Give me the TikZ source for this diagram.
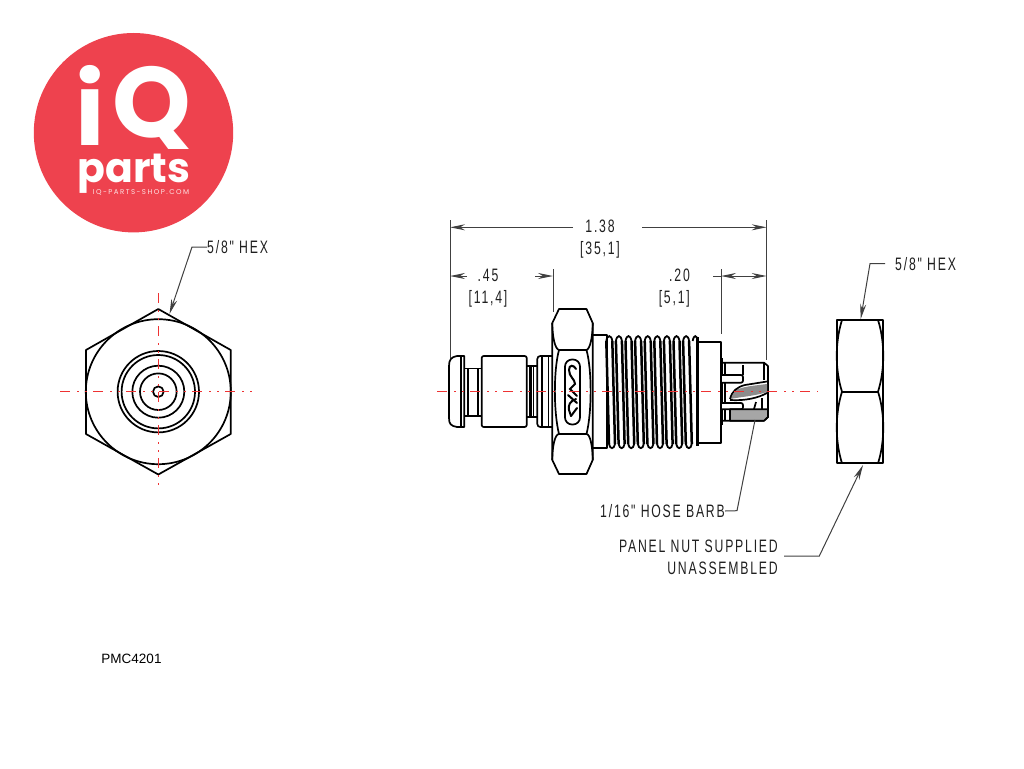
\documentclass[tikz,border=0pt]{standalone}
\usepackage{fontspec}
\usetikzlibrary{arrows.meta,patterns}
\newfontfamily\cadfont{Liberation Sans}[FakeStretch=.68,LetterSpace=10]
\newfontfamily\logofont{Poppins}
\setmainfont{Liberation Sans}
\definecolor{logored}{RGB}{238,66,78}
\definecolor{cline}{RGB}{238,50,50}
\definecolor{cadtext}{gray}{.12}
\begin{document}
\begin{tikzpicture}[x=1pt,y=-1pt,
	> = {Stealth[length=15pt,width=6pt]}, % arrow head style
	part/.style={line width=1.7pt,line join=round},
	centre/.style={cline,line width=1pt,dash pattern=on 10pt off 7pt on 2pt off 6pt on 2pt off 6pt},
	dim/.style={black!75,line width=1pt},
	logotext/.style={text=white,inner sep=0pt,anchor=base},
	cadlabel/.style={font=\cadfont\fontsize{18}{22}\selectfont,text=cadtext,inner sep=0pt}]
	\useasboundingbox (0,0) rectangle (1024,768);

	% logo
	\fill[logored] (133.5,132.7) circle (99.7);
	\node (logoi) at (90,145) [logotext,font=\logofont\bfseries\fontsize{100}{100}\selectfont] {i};
	\node (logoq) at (152,137) [logotext,font=\logofont\bfseries\fontsize{100}{100}\selectfont] {Q};
	\node (logoparts) at (134,182) [logotext,font=\logofont\bfseries\fontsize{41}{41}\selectfont] {parts};
	\node (logoshop) at (141,194.5) [logotext,font=\logofont\fontsize{7}{7}\selectfont,text=white!85!logored] {\addfontfeature{LetterSpace=21}IQ-PARTS-SHOP.COM};
	\node (partno) at (131.5,659) [font=\fontsize{13.5}{13.5}\selectfont,inner sep=0pt] {PMC4201};

	% end view
	\draw[part] (158.3,309)--(230.7,350)--(230.7,434)--(158.3,474.5)--(86,434)--(86,350)--cycle;
	\foreach \r in {72.5,40.7,36.7,26,18.3,5.3}
		\draw[part] (158.3,391.7) circle (\r);
	\draw[centre] (60,391.7)--(256,391.7);
	\draw[centre] (158.3,293)--(158.3,490);

	% knob and body
	\draw[part] (464.3,356) -- (457,356) .. controls (451,357) and (449,360) .. (449,366)
		-- (449,418) .. controls (449,424) and (451,426) .. (457,427) -- (464.3,427) -- cycle;
	\draw[part] (460.7,356)--(460.7,427);
	\draw[part] (464.3,368.5)--(481.7,368.5) (464.3,416)--(481.7,416);
	\draw[part] (467.7,368.5)--(467.7,416) (477.7,368.5)--(477.7,416);
	\draw[part,rounded corners=2pt] (481.7,427)--(481.7,356)--(526.7,356)--(526.7,427)--cycle;
	\draw[part] (526.7,366)--(537.3,366) (526.7,417)--(537.3,417);
	\draw[line width=2.6pt] (530.5,366)--(530.5,417);
	\draw[part] (533.5,366)--(533.5,417);
	\draw[part,rounded corners=3pt] (552.3,356)--(537.3,356)--(537.3,427)--(552.3,427);
	\draw[part] (542,356)--(542,427) (548.5,356)--(548.5,427);

	% hex
	\draw[part] (552.3,323) -- (559,309) -- (586.5,309) -- (592.7,323) -- (592.7,460) -- (586.5,474) -- (559,474) -- (552.3,460) -- cycle;
	\draw[part] (552.3,323) .. controls (552.3,337) and (555,349) .. (559,350) -- (586.5,350) .. controls (590,349) and (592.7,337) .. (592.7,323);
	\draw[part] (552.3,460) .. controls (552.3,446) and (555,434) .. (559,434) -- (586.5,434) .. controls (590,434) and (592.7,446) .. (592.7,460);
	\draw[part] (559,350) .. controls (553.5,370) and (553.5,412) .. (559,434);
	\draw[part] (586.5,350) .. controls (592,370) and (592,412) .. (586.5,434);
	\draw[part,rounded corners=7pt] (565,359.5) rectangle (580,424.5);
	\draw[line width=2pt,line cap=round] (576,369) .. controls (574,365) and (569,364) .. (569,370) .. controls (569,377) and (575,379) .. (575,384) -- (570,389) -- (577,396);
	\draw[line width=2pt,line cap=round] (576,399) .. controls (570,401) and (568,405) .. (569,410) -- (571,416);
	\draw[line width=2pt,line cap=round] (568,395) -- (577,403) (577,408) -- (571,416);

	% collar and thread
	\draw[part] (592.7,335)--(606.7,335)--(606.7,448)--(592.7,448);
	\foreach \k in {0,...,8} {
		\draw[line width=2.5pt] ({606.3+9.6*\k},341)--({609+9.6*\k},444);
		\draw[line width=2.5pt] ({612.3+9.6*\k},341)--({615+9.6*\k},444);
		\draw[line width=1.8pt] ({606.3+9.6*\k},341) .. controls ({607.3+9.6*\k},334.5) and ({611.3+9.6*\k},334.5) .. ({612.3+9.6*\k},341);
		\draw[line width=1.8pt] ({609+9.6*\k},444) .. controls ({610+9.6*\k},449.5) and ({614+9.6*\k},449.5) .. ({615+9.6*\k},444);
	}
	\draw[part,fill=white] (698,341.7) rectangle (721,442.7);
	\draw[line width=1.8pt] (692.7,341) .. controls (693.7,334.5) and (697,334.5) .. (697.5,341);
	\draw[line width=2.8pt] (697.5,337)--(697.5,446);

	% barb end
	\draw[part] (721.5,362.7)--(764,362.7)--(768,366)--(768,417)--(764,420.7)--(721.5,420.7)--cycle;
	\draw[line width=2.4pt] (722,358)--(722,425);
	\draw[part] (725,362.7)--(725,375) (725,382.7)--(725,402.7) (725,409.3)--(725,420.7) (764,362.7)--(764,380);
	\draw[part,rounded corners=2pt,fill=white] (722,375)--(743,375)--(743,382.7)--(722,382.7);
	\draw[part,rounded corners=2pt,fill=white] (722,403)--(743,403)--(743,409.3)--(722,409.3);
	\path[pattern=north east lines,pattern color=black!70,fill=black!35] (730,409.3)--(768,409.3)--(768,417)--(764,420.7)--(730,420.7)--cycle;
	\draw[part] (730,409.3)--(768,409.3)--(768,417)--(764,420.7)--(730,420.7)--cycle;
	\fill[black!45] (730,399) .. controls (740,397) and (755,396) .. (767,392) -- (767,384) .. controls (750,386) and (742,387) .. (736,390) -- cycle;
	\draw[part] (730,399) .. controls (732,391) and (737,387) .. (745,385) -- (767,381.5);
	\draw[part] (730,400) .. controls (745,401) and (758,398) .. (767,393);
	\draw[part] (756,402)--(754,409) (762,398)--(762,409) (743,375)--(743,365);

	% nut
	\draw[part] (836.7,320) rectangle (883.3,463.3);
	\draw[part] (842,391.7)--(878,391.7);
	\foreach \yt/\yb in {320/391.7,391.7/463.3} {
		\draw[part] (842,\yt) .. controls (835,{\yt+22}) and (835,{\yb-22}) .. (842,\yb);
		\draw[part] (878,\yt) .. controls (885,{\yt+22}) and (885,{\yb-22}) .. (878,\yb);
	}
	\draw[centre] (437,391.7)--(818,391.7);

	% dimensions
	\coordinate (extA) at (450,220);
	\coordinate (extAb) at (450,358);
	\coordinate (extB) at (766.7,220);
	\coordinate (extBb) at (766.7,360);
	\coordinate (extC) at (553,269);
	\coordinate (extCb) at (553,312);
	\coordinate (extD) at (721,269);
	\coordinate (extDb) at (721,334);
	\draw[dim] (extA)--(extAb);
	\draw[dim] (extB)--(extBb);
	\draw[dim] (extC)--(extCb);
	\draw[dim] (extD)--(extDb);

	\node (dimall) at (600,239) [cadlabel,align=center] {1.38\\{[35,1]}};
	\node (dimknob) at (488,288) [cadlabel,align=center] {.45\\{[11,4]}};
	\node (dimbarb) at (690,288) [cadlabel,align=right,anchor=east] {.20\\{[5,1]}};
	\coordinate (allL) at (573,227.3);
	\coordinate (allR) at (642,227.3);
	\coordinate (knobL) at (467,276);
	\coordinate (knobR) at (535,276);
	\coordinate (barbT) at (713,276);
	\draw[dim,->] (allL)--(450,227.3);
	\draw[dim,->] (allR)--(766.7,227.3);
	\draw[dim,->] (knobL)--(450,276);
	\draw[dim,->] (knobR)--(553,276);
	\draw[dim] (barbT)--(721,276);
	\draw[dim,<->] (721,276)--(766.7,276);

	% leaders
	\node (hexend) at (207,247) [cadlabel,anchor=west] {5/8" HEX};
	\node (hexnut) at (895,264) [cadlabel,anchor=west] {5/8" HEX};
	\node (hosebarb) at (725,511) [cadlabel,anchor=east] {1/16" HOSE BARB};
	\node (panelnut) at (778,557) [cadlabel,align=right,anchor=east] {PANEL NUT SUPPLIED\\UNASSEMBLED};
	\coordinate (tipend) at (169.5,314);
	\coordinate (tipnut) at (860.7,319);
	\coordinate (tipbottom) at (863,465);
	\coordinate (tipbarb) at (755,420);
	\coordinate (nutstart) at (885,263.5);
	\coordinate (panelstart) at (784,556);
	\draw[dim,->] (hexend.west)--(192,247)--(tipend);
	\draw[dim,->] (nutstart)--(870,263.5)--(tipnut);
	\draw[dim,->] (panelstart)--(819.3,556)--(tipbottom);
	\draw[dim] (hosebarb.east)--(737,510.7)--(tipbarb);
\end{tikzpicture}
\end{document}
